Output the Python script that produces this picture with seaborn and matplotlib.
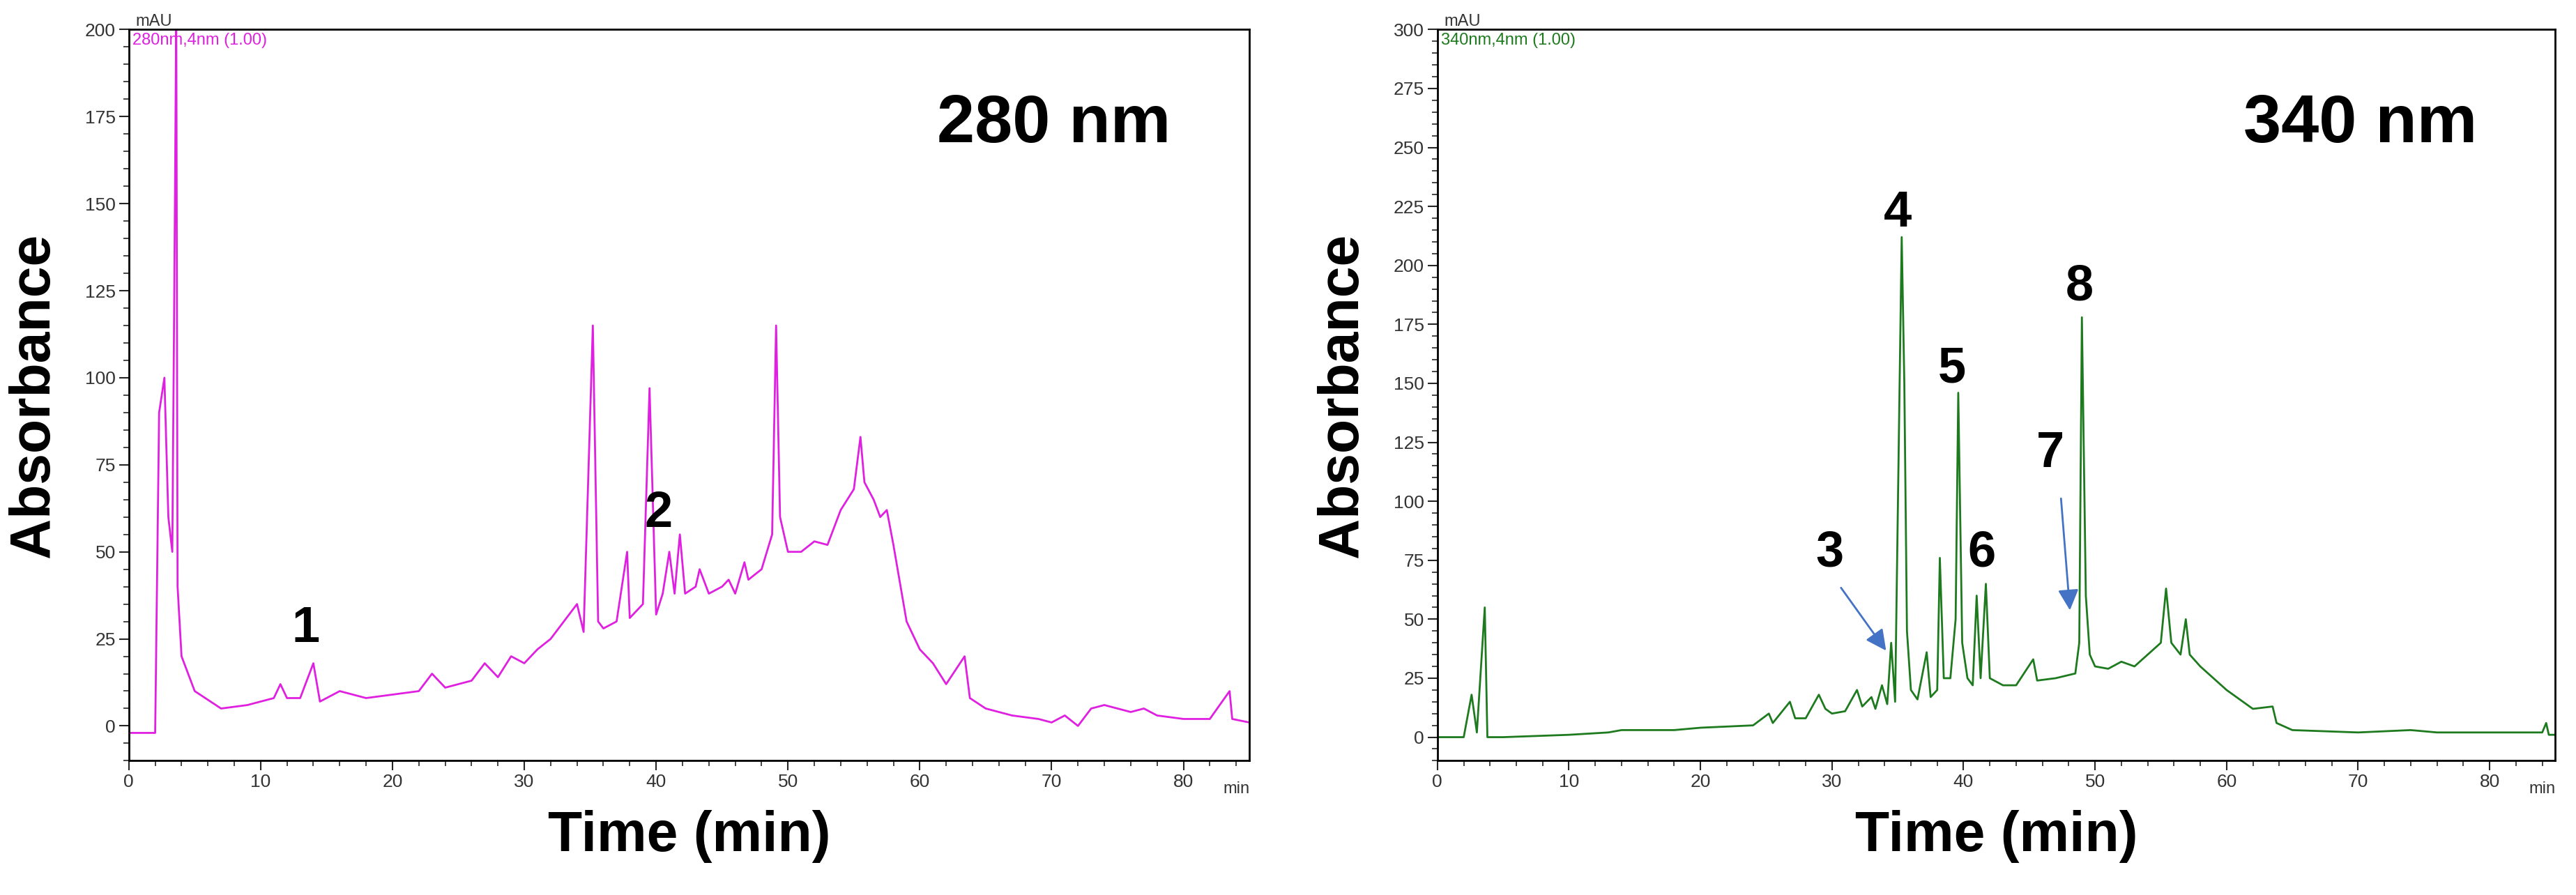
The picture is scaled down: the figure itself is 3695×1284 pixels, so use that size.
import numpy as np
import pandas as pd
import matplotlib
matplotlib.use('Agg')
import matplotlib.pyplot as plt
import seaborn as sns
from matplotlib.ticker import MultipleLocator

# 280 nm trace (time min, mAU)
t280 = [0, 2.0, 2.3, 2.7, 3.0, 3.3, 3.5, 3.6, 3.7, 4.0, 5.0, 7.0, 9.0, 11.0, 11.5, 12.0, 13.0, 14.0, 14.5,
        16.0, 18.0, 20.0, 22.0, 23.0, 24.0, 26.0, 27.0, 28.0, 29.0, 30.0, 31.0, 32.0, 33.0, 34.0, 34.5,
        35.2, 35.6, 36.0, 37.0, 37.8, 38.0, 39.0, 39.5, 40.0, 40.5, 41.0, 41.4, 41.8, 42.2, 43.0, 43.3,
        44.0, 45.0, 45.5, 46.0, 46.7, 47.0, 48.0, 48.8, 49.1, 49.4, 50.0, 51.0, 52.0, 53.0, 54.0, 55.0,
        55.5, 55.8, 56.5, 57.0, 57.5, 58.0, 59.0, 60.0, 61.0, 62.0, 63.4, 63.8, 65.0, 67.0, 69.0, 70.0,
        71.0, 72.0, 73.0, 74.0, 76.0, 77.0, 78.0, 80.0, 82.0, 83.5, 83.7, 85.0]
a280 = [-2, -2, 90, 100, 60, 50, 150, 205, 40, 20, 10, 5, 6, 8, 12, 8, 8, 18, 7,
        10, 8, 9, 10, 15, 11, 13, 18, 14, 20, 18, 22, 25, 30, 35, 27,
        115, 30, 28, 30, 50, 31, 35, 97, 32, 38, 50, 38, 55, 38, 40, 45,
        38, 40, 42, 38, 47, 42, 45, 55, 115, 60, 50, 50, 53, 52, 62, 68,
        83, 70, 65, 60, 62, 52, 30, 22, 18, 12, 20, 8, 5, 3, 2, 1,
        3, 0, 5, 6, 4, 5, 3, 2, 2, 10, 2, 1]

# 340 nm trace
t340 = [0, 2.0, 2.6, 3.0, 3.6, 3.8, 5.0, 10.0, 13.0, 14.0, 18.0, 20.0, 24.0, 25.2, 25.5, 26.8, 27.2, 28.0,
        29.0, 29.5, 30.0, 31.0, 31.9, 32.3, 33.0, 33.3, 33.8, 34.2, 34.5, 34.8, 35.3, 35.5, 35.7, 36.0,
        36.5, 37.2, 37.5, 38.0, 38.2, 38.5, 39.0, 39.4, 39.6, 39.9, 40.3, 40.7, 41.0, 41.3, 41.7, 42.0,
        43.0, 44.0, 45.3, 45.6, 47.0, 48.5, 48.8, 49.0, 49.3, 49.6, 50.0, 51.0, 52.0, 53.0, 54.0, 55.0,
        55.4, 55.8, 56.5, 56.9, 57.2, 58.0, 60.0, 62.0, 63.5, 63.8, 65.0, 70.0, 74.0, 76.0, 80.0, 84.0,
        84.3, 84.5, 85.0]
a340 = [0, 0, 18, 2, 55, 0, 0, 1, 2, 3, 3, 4, 5, 10, 6, 15, 8, 8,
        18, 12, 10, 11, 20, 13, 17, 12, 22, 14, 40, 15, 212, 150, 45, 20,
        16, 36, 17, 20, 76, 25, 25, 50, 146, 40, 25, 22, 60, 25, 65, 25,
        22, 22, 33, 24, 25, 27, 40, 178, 60, 35, 30, 29, 32, 30, 35, 40,
        63, 40, 35, 50, 35, 30, 20, 12, 13, 6, 3, 2, 3, 2, 2, 2,
        6, 1, 1]

peak_ids_280 = ['1', '2']
peak_pos_280 = [(13.4, 28), (40.2, 61)]
peak_ids_340 = ['3', '4', '5', '6', '7', '8']
peak_pos_340 = [(29.8, 78), (35.0, 222), (39.1, 156), (41.4, 78), (46.6, 120), (48.8, 191)]
arrows_340 = [((30.6, 64), (34.2, 36)), ((47.4, 102), (48.1, 53))]

sns.set_theme(style='white')
plt.rcParams['font.family'] = ['Liberation Sans', 'DejaVu Sans']
plt.rcParams['text.color'] = 'black'
plt.rcParams['axes.labelcolor'] = 'black'

fig = plt.figure(figsize=(36.95, 12.84), dpi=100)
ax1 = fig.add_axes([0.050, 0.150, 0.435, 0.817])
ax2 = fig.add_axes([0.558, 0.150, 0.434, 0.817])

panels = [
    (ax1, t280, a280, '#E020E0', 200, '280 nm', '280nm,4nm (1.00)', peak_ids_280, peak_pos_280, []),
    (ax2, t340, a340, '#1E7A1E', 300, '340 nm', '340nm,4nm (1.00)', peak_ids_340, peak_pos_340, arrows_340),
]

for ax, t, a, col, ymax, title, tag, ids, pos, arrs in panels:
    df = pd.DataFrame({'t': t, 'a': a})
    sns.lineplot(data=df, x='t', y='a', ax=ax, color=col, linewidth=2)
    ax.set_xlim(0, 85)
    ax.set_ylim(-10, ymax)
    ax.xaxis.set_major_locator(MultipleLocator(10))
    ax.xaxis.set_minor_locator(MultipleLocator(2))
    ax.yaxis.set_major_locator(MultipleLocator(25))
    ax.yaxis.set_minor_locator(MultipleLocator(5))
    ax.set_xticks(range(0, 81, 10))
    ax.tick_params(which='major', direction='out', length=10, width=1.5, labelsize=19,
                   labelcolor='#333333', bottom=True, left=True)
    ax.tick_params(which='minor', direction='out', length=6, width=1.2, bottom=True, left=True)
    for s in ax.spines.values():
        s.set_color('black')
        s.set_linewidth(2)
    ax.set_xlabel('Time (min)', fontsize=58, fontweight='bold', labelpad=20)
    ax.set_ylabel('Absorbance', fontsize=58, fontweight='bold', labelpad=25)
    ax.text(84, -0.028, 'min', transform=ax.get_xaxis_transform(), fontsize=17, color='#333333',
            ha='center', va='top')
    ax.text(0.5, ymax, 'mAU', fontsize=17, color='#333333', ha='left', va='bottom')
    ax.text(0.3, ymax * 0.995, tag, fontsize=17, color=col, ha='left', va='top')
    ax.text(0.93, 0.87, title, transform=ax.transAxes, fontsize=70, fontweight='bold',
            ha='right', va='center')
    for lab, (x, y) in zip(ids, pos):
        ax.text(x, y, lab, fontsize=52, fontweight='bold', ha='center', va='center')
    for start, end in arrs:
        ax.annotate('', xy=end, xytext=start,
                    arrowprops=dict(arrowstyle='-|>', color='#4472C4', lw=2, mutation_scale=45))

fig.savefig('out.png', dpi=100, facecolor='white')
